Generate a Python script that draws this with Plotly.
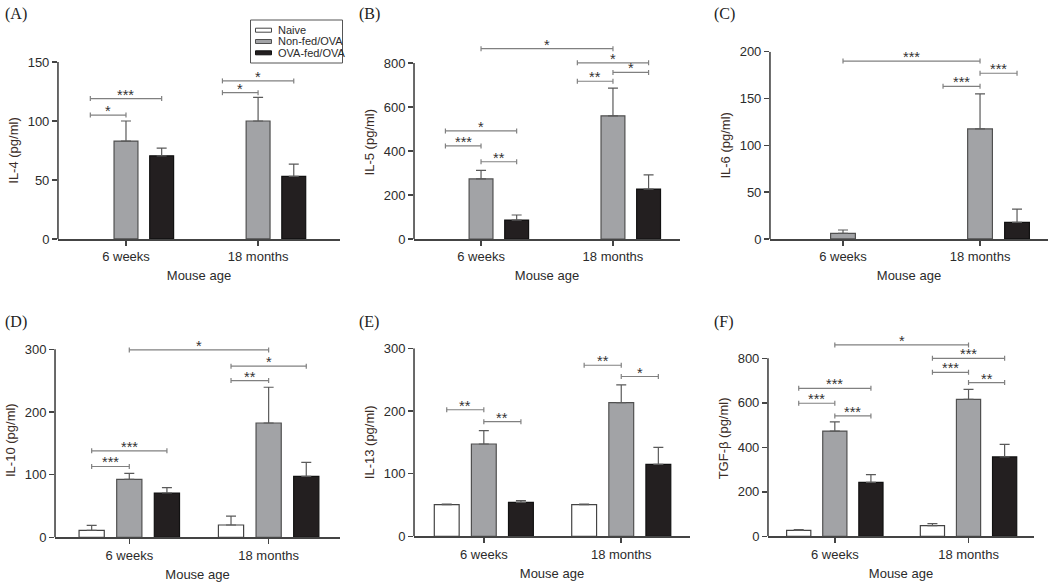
import plotly.graph_objects as go

# ---------------- data ----------------
CATEGORIES = ["6 weeks", "18 months"]
SERIES = ["Naive", "Non-fed/OVA", "OVA-fed/OVA"]
PANEL_LABELS = ["(A)", "(B)", "(C)", "(D)", "(E)", "(F)"]
Y_TITLES = ["IL-4 (pg/ml)", "IL-5 (pg/ml)", "IL-6 (pg/ml)",
            "IL-10 (pg/ml)", "IL-13 (pg/ml)", "TGF-β (pg/ml)"]
X_TITLE = "Mouse age"

# means per series, [6 weeks, 18 months]
IL4_NAIVE = [None, None]
IL4_NONFED = [83, 100]
IL4_OVAFED = [70.5, 53]
IL4_NAIVE_ERR = [None, None]
IL4_NONFED_ERR = [17, 20]
IL4_OVAFED_ERR = [6.5, 10.5]

IL5_NAIVE = [None, None]
IL5_NONFED = [273, 560]
IL5_OVAFED = [86, 227]
IL5_NAIVE_ERR = [None, None]
IL5_NONFED_ERR = [39, 126]
IL5_OVAFED_ERR = [23, 64]

IL6_NAIVE = [None, None]
IL6_NONFED = [6, 117.5]
IL6_OVAFED = [None, 17.8]
IL6_NAIVE_ERR = [None, None]
IL6_NONFED_ERR = [3.6, 37.5]
IL6_OVAFED_ERR = [None, 14]

IL10_NAIVE = [11.2, 19.7]
IL10_NONFED = [92.6, 182.4]
IL10_OVAFED = [70.7, 97.3]
IL10_NAIVE_ERR = [8, 14]
IL10_NONFED_ERR = [9.5, 57]
IL10_OVAFED_ERR = [8.6, 22.4]

IL13_NAIVE = [50.5, 50.5]
IL13_NONFED = [147.3, 213.3]
IL13_OVAFED = [54.3, 114.9]
IL13_NAIVE_ERR = [1.1, 1.1]
IL13_NONFED_ERR = [21.3, 28.2]
IL13_OVAFED_ERR = [2.6, 27.1]

TGFB_NAIVE = [27, 48]
TGFB_NONFED = [473, 615.7]
TGFB_OVAFED = [242.7, 356.6]
TGFB_NAIVE_ERR = [3, 9]
TGFB_NONFED_ERR = [41, 45]
TGFB_OVAFED_ERR = [34.3, 56.9]

# significance brackets: (category a, series a, category b, series b, y, label)
IL4_SIG = [(0, 0, 0, 1, 105, "*"), (0, 0, 0, 2, 119, "***"),
           (1, 0, 1, 1, 124, "*"), (1, 0, 1, 2, 134, "*")]
IL5_SIG = [(0, 1, 1, 1, 865, "*"), (1, 0, 1, 2, 801, "*"), (1, 1, 1, 2, 757, "*"),
           (1, 0, 1, 1, 717, "**"), (0, 0, 0, 2, 491, "*"), (0, 0, 0, 1, 423, "***"),
           (0, 1, 0, 2, 351, "**")]
IL6_SIG = [(0, 1, 1, 1, 190, "***"), (1, 1, 1, 2, 177, "***"), (1, 0, 1, 1, 163, "***")]
IL10_SIG = [(0, 1, 1, 1, 299, "*"), (1, 0, 1, 2, 273, "*"), (1, 0, 1, 1, 250, "**"),
            (0, 0, 0, 2, 138, "***"), (0, 0, 0, 1, 113, "***")]
IL13_SIG = [(0, 0, 0, 1, 202, "**"), (0, 1, 0, 2, 183, "**"),
            (1, 0, 1, 1, 273, "**"), (1, 1, 1, 2, 255, "*")]
TGFB_SIG = [(0, 1, 1, 1, 860, "*"), (1, 0, 1, 2, 800, "***"), (1, 0, 1, 1, 737, "***"),
            (1, 1, 1, 2, 691, "**"), (0, 0, 0, 2, 665, "***"), (0, 0, 0, 1, 598, "***"),
            (0, 1, 0, 2, 541, "***")]

Y_TICKS = [[0, 50, 100, 150], [0, 200, 400, 600, 800], [0, 50, 100, 150, 200],
           [0, 100, 200, 300], [0, 100, 200, 300], [0, 200, 400, 600, 800]]

PANELS = [
    ([IL4_NAIVE, IL4_NONFED, IL4_OVAFED], [IL4_NAIVE_ERR, IL4_NONFED_ERR, IL4_OVAFED_ERR], IL4_SIG),
    ([IL5_NAIVE, IL5_NONFED, IL5_OVAFED], [IL5_NAIVE_ERR, IL5_NONFED_ERR, IL5_OVAFED_ERR], IL5_SIG),
    ([IL6_NAIVE, IL6_NONFED, IL6_OVAFED], [IL6_NAIVE_ERR, IL6_NONFED_ERR, IL6_OVAFED_ERR], IL6_SIG),
    ([IL10_NAIVE, IL10_NONFED, IL10_OVAFED], [IL10_NAIVE_ERR, IL10_NONFED_ERR, IL10_OVAFED_ERR], IL10_SIG),
    ([IL13_NAIVE, IL13_NONFED, IL13_OVAFED], [IL13_NAIVE_ERR, IL13_NONFED_ERR, IL13_OVAFED_ERR], IL13_SIG),
    ([TGFB_NAIVE, TGFB_NONFED, TGFB_OVAFED], [TGFB_NAIVE_ERR, TGFB_NONFED_ERR, TGFB_OVAFED_ERR], TGFB_SIG),
]

# ---------------- layout / style ----------------
W, H = 1050, 585
FONT = "Liberation Sans, Arial, sans-serif"
TXT = "#2b2b2b"
AX = "#444444"
FILL = ["#ffffff", "#a2a3a6", "#231f20"]
EDGE = ["#444444", "#505050", "#111111"]
BARGAP = 0.19
BARGROUPGAP = 0.33
OFFSET = (1 - BARGAP) / 3  # distance between bar centres in a group

X_DOMAINS = [[0.0552, 0.3238], [0.3943, 0.6476], [0.7333, 0.9981],
             [0.0524, 0.3238], [0.3943, 0.6571], [0.7314, 0.9848]]
Y_DOMAINS = [[0.5915, 0.894], [0.5915, 0.9224], [0.5915, 0.9116],
             [0.0815, 0.4137], [0.0832, 0.4046], [0.0832, 0.418]]
X_RANGES = [[-0.515, 1.62], [-0.508, 1.508], [-0.533, 1.496],
            [-0.533, 1.512], [-0.508, 1.50], [-0.50, 1.49]]
Y_RANGES = [[0, 150], [0, 880], [0, 200], [0, 310], [0, 300], [0, 880]]
LABEL_POS = [(0.003, 0.995), (0.340, 0.995), (0.678, 0.995),
             (0.003, 0.468), (0.340, 0.468), (0.678, 0.468)]


def px(x, y):
    """pixel position (from top-left) -> paper coordinates"""
    return x / W, 1 - y / H


fig = go.Figure()
shapes = []
annotations = []
layout_axes = {}

for p, (vals, errs, sigs) in enumerate(PANELS):
    n = p + 1
    xr = "x" if n == 1 else f"x{n}"
    yr = "y" if n == 1 else f"y{n}"
    xkey = "xaxis" if n == 1 else f"xaxis{n}"
    ykey = "yaxis" if n == 1 else f"yaxis{n}"

    for s in range(3):
        fig.add_trace(go.Bar(
            x=[0, 1], y=vals[s], name=SERIES[s],
            xaxis=xr, yaxis=yr, offsetgroup=str(s),
            marker=dict(color=FILL[s], line=dict(color=EDGE[s], width=1.2)),
            error_y=dict(type="data", array=errs[s], arrayminus=[0, 0],
                         symmetric=False, color="#5a5a5a", thickness=1.2, width=5),
            showlegend=False, legendgroup=SERIES[s],
        ))

    layout_axes[xkey] = dict(
        domain=X_DOMAINS[p], range=X_RANGES[p], anchor=yr, automargin=False,
        tickvals=[0, 1], ticktext=CATEGORIES,
        showline=True, linecolor=AX, linewidth=1.6,
        ticks="outside", ticklen=5, tickwidth=1.5, tickcolor=AX,
        showgrid=False, zeroline=False, fixedrange=True,
        tickfont=dict(family=FONT, size=13, color=TXT),
        title=dict(text=X_TITLE, standoff=8, font=dict(family=FONT, size=13, color=TXT)),
    )
    layout_axes[ykey] = dict(
        domain=Y_DOMAINS[p], range=Y_RANGES[p], anchor=xr, automargin=False,
        tickvals=Y_TICKS[p], showline=False,
        ticks="outside", ticklen=5, tickwidth=1.5, tickcolor=AX,
        showgrid=False, zeroline=False, fixedrange=True,
        tickfont=dict(family=FONT, size=13, color=TXT),
        title=dict(text=Y_TITLES[p], standoff=6, font=dict(family=FONT, size=13, color="#3a2c26")),
    )
    # y-axis line up to the last tick only
    shapes.append(dict(type="line", xref=f"{xr} domain", x0=0, x1=0,
                       yref=yr, y0=0, y1=Y_TICKS[p][-1],
                       line=dict(color=AX, width=1.6)))

    # significance brackets
    px_h = (Y_DOMAINS[p][1] - Y_DOMAINS[p][0]) * H
    cap = 2.5 * (Y_RANGES[p][1] - Y_RANGES[p][0]) / px_h
    for (ca, sa, cb, sb, yv, lab) in sigs:
        xa = ca + (sa - 1) * OFFSET
        xb = cb + (sb - 1) * OFFSET
        for (x0, y0, x1, y1) in [(xa, yv, xb, yv), (xa, yv - cap, xa, yv + cap),
                                 (xb, yv - cap, xb, yv + cap)]:
            shapes.append(dict(type="line", xref=xr, yref=yr, x0=x0, y0=y0, x1=x1, y1=y1,
                               line=dict(color="#808080", width=1.2)))
        annotations.append(dict(x=(xa + xb) / 2, y=yv, xref=xr, yref=yr, text=lab,
                                showarrow=False, yanchor="bottom", yshift=-6,
                                font=dict(family=FONT, size=14.5, color="#333333")))

    lx, ly = LABEL_POS[p]
    annotations.append(dict(x=lx, y=ly, xref="paper", yref="paper", text=PANEL_LABELS[p],
                            showarrow=False, xanchor="left", yanchor="top",
                            font=dict(family="Liberation Serif, Times New Roman, serif",
                                      size=16, color="#222222")))

# compact legend box (panel A), like the original figure
bx0, by0 = px(250.5, 20)
bx1, by1 = px(342.5, 63)
shapes.append(dict(type="rect", xref="paper", yref="paper", x0=bx0, y0=by1, x1=bx1, y1=by0,
                   line=dict(color="#555555", width=1), fillcolor="white", layer="above"))
for s in range(3):
    cy = 30.2 + s * 11.3
    sx0, sy0 = px(255.5, cy - 2)
    sx1, sy1 = px(271.5, cy + 2)
    shapes.append(dict(type="rect", xref="paper", yref="paper", x0=sx0, y0=sy1, x1=sx1, y1=sy0,
                       line=dict(color=EDGE[s], width=1), fillcolor=FILL[s], layer="above"))
    tx, ty = px(275.5, cy)
    annotations.append(dict(x=tx, y=ty, xref="paper", yref="paper", text=SERIES[s],
                            showarrow=False, xanchor="left", yanchor="middle",
                            font=dict(family=FONT, size=11, color=TXT)))

fig.update_layout(
    width=W, height=H, margin=dict(l=0, r=0, t=0, b=0, autoexpand=False),
    paper_bgcolor="white", plot_bgcolor="white",
    barmode="group", bargap=BARGAP, bargroupgap=BARGROUPGAP,
    shapes=shapes, annotations=annotations, showlegend=False,
    font=dict(family=FONT, color=TXT),
    **layout_axes,
)

fig.write_html("out.html", config={"displayModeBar": False, "staticPlot": True},
               post_script="document.body.style.margin='0';")
